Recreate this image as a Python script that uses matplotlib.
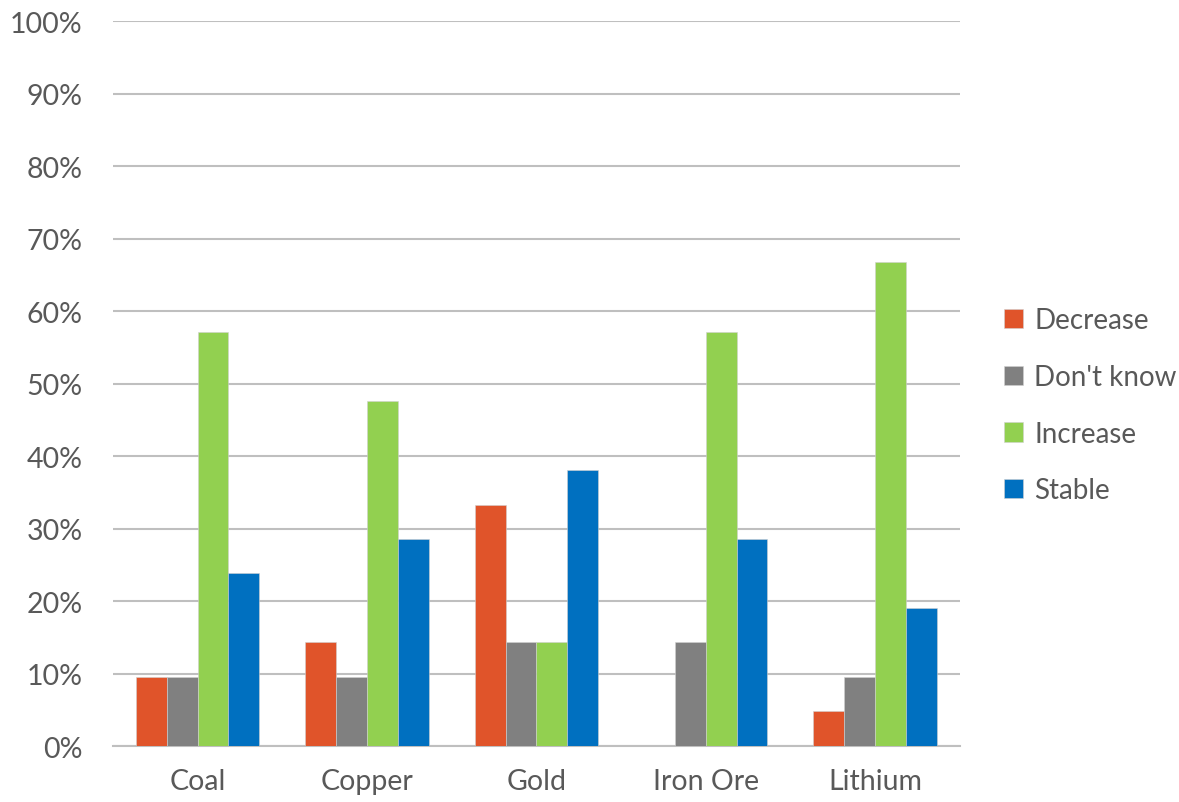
import matplotlib
matplotlib.use("Agg")
import matplotlib.pyplot as plt
import numpy as np
from matplotlib.ticker import FuncFormatter, MultipleLocator

categories = ["Coal", "Copper", "Gold", "Iron Ore", "Lithium"]
series = ["Decrease", "Don't know", "Increase", "Stable"]
decrease = [9.5, 14.3, 33.3, 0.0, 4.8]
dont_know = [9.5, 9.5, 14.3, 14.3, 9.5]
increase = [57.1, 47.6, 14.3, 57.1, 66.7]
stable = [23.8, 28.6, 38.1, 28.6, 19.0]
colors = ["#E0542A", "#808080", "#92D050", "#0070C0"]

plt.rcParams['font.family'] = ['Lato', 'DejaVu Sans']
fig = plt.figure(figsize=(11.79, 8.03), dpi=100)
ax = fig.add_axes([0.0958, 0.0697, 0.7182, 0.9029])

x = np.arange(len(categories))
w = 0.182
vals = [decrease, dont_know, increase, stable]
for i, (name, v, c) in enumerate(zip(series, vals, colors)):
    ax.bar(x + (i - 1.5) * w, v, width=w, color=c, label=name, zorder=3,
           edgecolor="#d0d0d0", linewidth=0.4)

ax.set_xlim(-0.5, len(categories) - 0.5)
ax.set_ylim(0, 100)
ax.yaxis.set_major_locator(MultipleLocator(10))
ax.yaxis.set_major_formatter(FuncFormatter(lambda v, p: f"{int(v)}%"))
ax.grid(axis='y', color="#BFBFBF", linewidth=1.5, zorder=0)
ax.set_xticks(x)
ax.set_xticklabels(categories)
for s in ["top", "right", "left"]:
    ax.spines[s].set_visible(False)
ax.spines["bottom"].set_color("#BFBFBF")
ax.spines["bottom"].set_linewidth(1.5)
ax.tick_params(axis='both', length=0, labelsize=20.5, colors="#595959", pad=22)
ax.tick_params(axis='x', pad=16)

leg = fig.legend(loc="center left", bbox_to_anchor=(0.83, 0.494), frameon=False,
                 fontsize=20, labelcolor="#595959", handlelength=0.7,
                 handleheight=0.7, handletextpad=0.4, labelspacing=1.1)

fig.savefig("out.png", dpi=100)
